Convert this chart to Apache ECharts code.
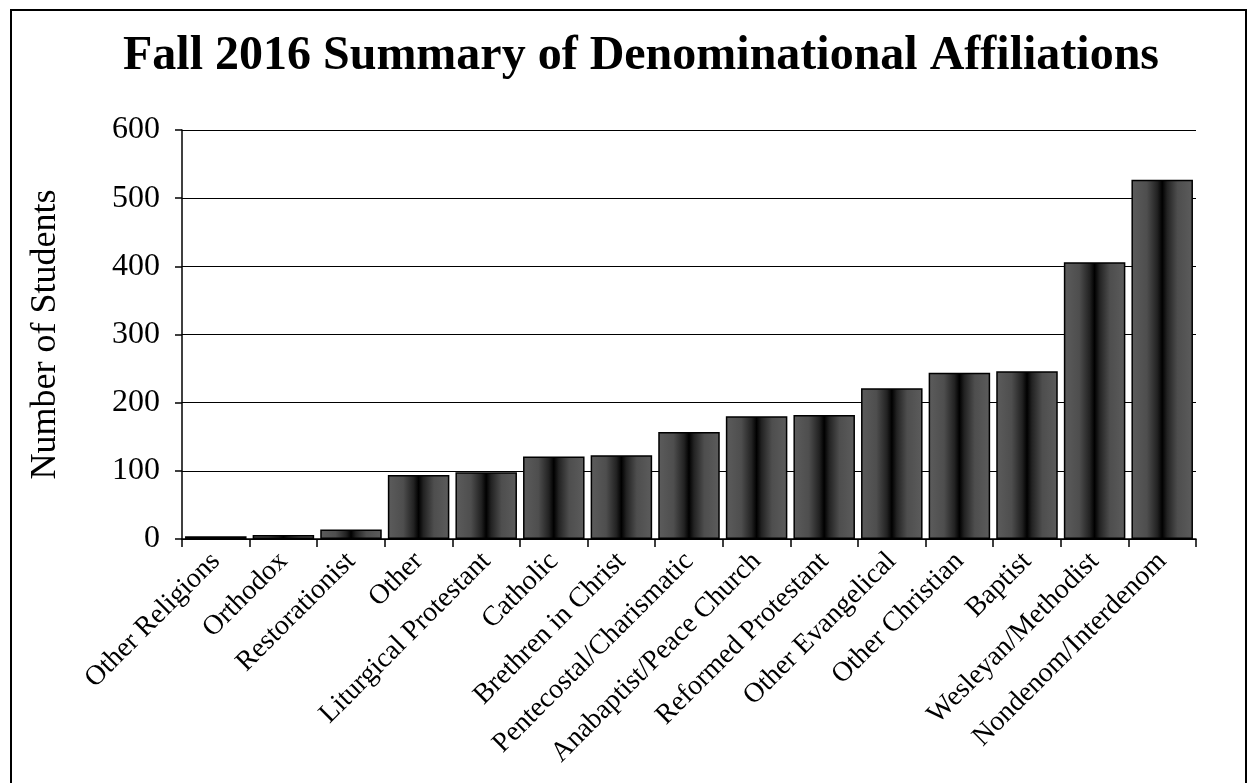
<!DOCTYPE html>
<html>
<head>
<meta charset="utf-8">
<script src="https://cdn.jsdelivr.net/npm/echarts@6/dist/echarts.min.js"></script>
<style>
  html, body { margin: 0; padding: 0; background: #fff; }
  #chart { width: 1248px; height: 783px; }
</style>
</head>
<body>
<div id="chart"></div>
<script>
// 分类与数值
const categories = [
    'Other Religions', 'Orthodox', 'Restorationist', 'Other', 'Liturgical Protestant',
    'Catholic', 'Brethren in Christ', 'Pentecostal/Charismatic', 'Anabaptist/Peace Church',
    'Reformed Protestant', 'Other Evangelical', 'Other Christian', 'Baptist',
    'Wesleyan/Methodist', 'Nondenom/Interdenom'
];
const students = [4, 6, 14, 94, 98, 121, 123, 157, 180, 182, 221, 244, 246, 406, 527];

const serif = '"Liberation Serif", "Times New Roman", serif';

const myChart = echarts.init(document.getElementById('chart'));

// 柱子的横向渐变（两边灰，中间黑）
const barGradient = new echarts.graphic.LinearGradient(0, 0, 1, 0, [
    { offset: 0, color: '#5c5c5c' },
    { offset: 0.25, color: '#4e4e4e' },
    { offset: 0.42, color: '#222' },
    { offset: 0.5, color: '#000' },
    { offset: 0.58, color: '#222' },
    { offset: 0.75, color: '#4e4e4e' },
    { offset: 1, color: '#5c5c5c' }
]);

const option = {
    backgroundColor: '#fff',
    animation: false,
    title: {
        text: 'Fall 2016 Summary of Denominational Affiliations',
        left: 118,
        top: 28,
        textStyle: {
            fontFamily: serif,
            fontWeight: 'bold',
            fontSize: 48,
            color: '#000'
        }
    },
    graphic: [{
        type: 'rect',
        shape: { x: 11, y: 10, width: 1235, height: 790 },
        style: { fill: 'none', stroke: '#000', lineWidth: 2 },
        silent: true
    }],
    grid: {
        left: 182,
        right: 52,
        top: 130,
        bottom: 244
    },
    xAxis: {
        type: 'category',
        data: categories,
        axisLine: { lineStyle: { color: '#000', width: 1.5 } },
        axisTick: { show: true, length: 8, lineStyle: { color: '#000', width: 1.5 } },
        axisLabel: {
            rotate: 45,
            interval: 0,
            margin: 18,
            fontFamily: serif,
            fontSize: 28,
            color: '#000'
        }
    },
    yAxis: {
        type: 'value',
        min: 0,
        max: 600,
        interval: 100,
        name: 'Number of Students',
        nameLocation: 'middle',
        nameGap: 118,
        nameTextStyle: {
            fontFamily: serif,
            fontSize: 36,
            color: '#000'
        },
        axisLine: { show: true, lineStyle: { color: '#000', width: 1.5 } },
        axisTick: { show: true, length: 7, lineStyle: { color: '#000', width: 1.5 } },
        axisLabel: {
            margin: 22,
            fontFamily: serif,
            fontSize: 32,
            color: '#000'
        },
        splitLine: { lineStyle: { color: '#000', width: 1.2 } }
    },
    series: [{
        type: 'bar',
        data: students,
        barCategoryGap: '9%',
        itemStyle: {
            color: barGradient,
            borderColor: '#000',
            borderWidth: 1.5
        }
    }]
};

myChart.setOption(option);

window.addEventListener('resize', () => {
    myChart.resize();
});
</script>
</body>
</html>
